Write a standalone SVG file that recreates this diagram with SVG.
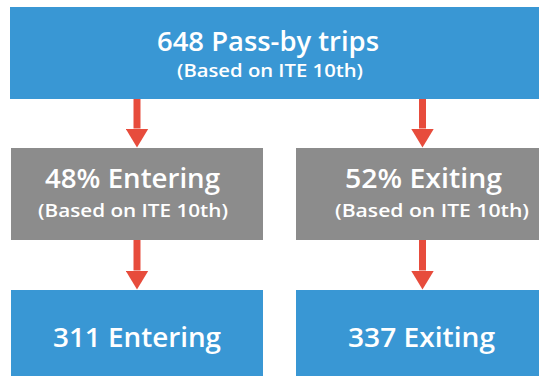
<svg xmlns="http://www.w3.org/2000/svg" width="539" height="376" viewBox="0 0 539 376">
  <style>
    .blue { fill: #3997d4; }
    .gray { fill: #8c8c8c; }
    .t { font-family: "Open Sans", "Liberation Sans", sans-serif; fill: #ffffff; text-anchor: middle; font-weight: 600; }
    .big { font-size: 26.5px; }
    .sub { font-size: 18.5px; }
    .conn { stroke: #e74c3c; stroke-width: 7; fill: none; marker-end: url(#head); }
  </style>
  <defs>
    <marker id="head" markerUnits="userSpaceOnUse" viewBox="0 0 19 23" markerWidth="19" markerHeight="23" refX="0" refY="11.5" orient="auto">
      <path d="M0,0 L19,11.5 L0,23 Z" fill="#e74c3c"/>
    </marker>
  </defs>
  <rect width="539" height="376" fill="#ffffff"/>

  <g id="connectors">
    <line class="conn" x1="137" y1="98" x2="137" y2="128.5"/>
    <line class="conn" x1="422.5" y1="98" x2="422.5" y2="128.5"/>
    <line class="conn" x1="137" y1="239" x2="137" y2="270.5"/>
    <line class="conn" x1="422.5" y1="239" x2="422.5" y2="270.5"/>
  </g>

  <g id="node-total">
    <rect class="blue" x="10" y="7" width="545" height="92"/>
    <text class="t big" x="268" y="51" textLength="222" lengthAdjust="spacingAndGlyphs">648 Pass-by trips</text>
    <text class="t sub" x="270" y="77" textLength="186" lengthAdjust="spacingAndGlyphs">(Based on ITE 10th)</text>
  </g>

  <g id="node-entering-pct">
    <rect class="gray" x="11" y="148" width="252" height="92"/>
    <text class="t big" x="132.5" y="188" textLength="175" lengthAdjust="spacingAndGlyphs">48% Entering</text>
    <text class="t sub" x="133" y="216.5" textLength="190" lengthAdjust="spacingAndGlyphs">(Based on ITE 10th)</text>
  </g>

  <g id="node-exiting-pct">
    <rect class="gray" x="296" y="148" width="260" height="92"/>
    <text class="t big" x="423.5" y="188" textLength="157" lengthAdjust="spacingAndGlyphs">52% Exiting</text>
    <text class="t sub" x="432" y="216.5" textLength="194" lengthAdjust="spacingAndGlyphs">(Based on ITE 10th)</text>
  </g>

  <g id="node-entering">
    <rect class="blue" x="11" y="290" width="252" height="90"/>
    <text class="t big" x="137" y="347" textLength="168" lengthAdjust="spacingAndGlyphs">311 Entering</text>
  </g>

  <g id="node-exiting">
    <rect class="blue" x="296" y="290" width="260" height="90"/>
    <text class="t big" x="421.5" y="347" textLength="147" lengthAdjust="spacingAndGlyphs">337 Exiting</text>
  </g>
</svg>
